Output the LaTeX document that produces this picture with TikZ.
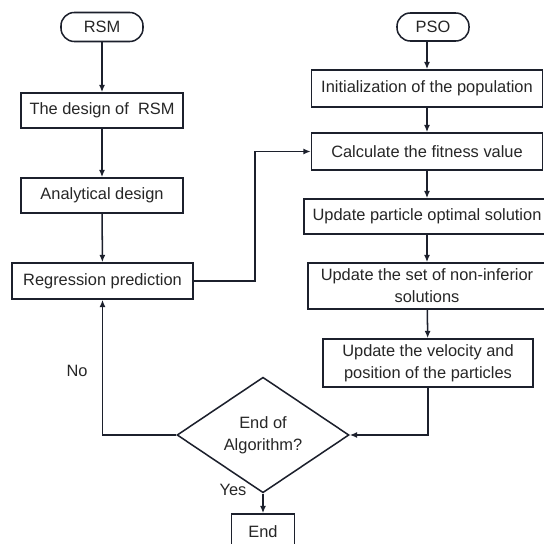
\documentclass[tikz,border=0pt]{standalone}
\usepackage{fontspec}
\setmainfont{Liberation Sans}
\usetikzlibrary{arrows.meta,positioning,shapes.geometric}
\definecolor{ink}{RGB}{28,32,44}
\definecolor{textgray}{RGB}{38,38,38}

\begin{document}
\begin{tikzpicture}[x=0.03cm,y=-0.03cm,
        box/.style={draw=ink,line width=1.3pt,fill=white,align=center,inner sep=2pt,text=textgray,font=\fontsize{14}{18.7}\selectfont},
        term/.style={box,rounded corners=0.4cm},
        arr/.style={draw=ink,line width=1.3pt,-{Latex[length=2.2mm,width=1.8mm]}},
        lbl/.style={text=textgray,font=\fontsize{14}{18.7}\selectfont}]
        \useasboundingbox (0,0) rectangle (543,544);
        % left column
        \node[term,minimum width=2.46cm,minimum height=0.87cm] (rsm) at (102,27) {RSM};
        \node[box,minimum width=4.86cm,minimum height=1.05cm] (design) at (102,110.5) {The design of~ RSM};
        \node[box,minimum width=4.86cm,minimum height=1.05cm] (analytic) at (102,195.5) {Analytical design};
        \node[box,minimum width=5.43cm,minimum height=1.08cm] (regress) at (102.5,281) {Regression prediction};
        % right column
        \node[term,minimum width=2.16cm,minimum height=0.84cm] (pso) at (433,27) {PSO};
        \node[box,minimum width=6.93cm,minimum height=1.11cm] (init) at (427,88.5) {Initialization of the population};
        \node[box,minimum width=6.93cm,minimum height=1.11cm] (calc) at (427,151.5) {Calculate the fitness value};
        \node[box,minimum width=7.38cm,minimum height=1.05cm] (optim) at (427,216.5) {Update particle optimal solution};
        \node[box,minimum width=7.14cm,minimum height=1.38cm] (noninf) at (427,286) {Update the set of non-inferior\\solutions};
        \node[box,minimum width=6.3cm,minimum height=1.44cm] (velocity) at (428,363) {Update the velocity and\\position of the particles};
        % decision
        \node[box,diamond,inner sep=0pt,minimum width=5.16cm,minimum height=2.28cm] (check) at (263,435) {End of\\Algorithm?};
        \node[box,minimum width=1.89cm,minimum height=1.08cm] (done) at (263,532) {End};
        \coordinate (bend) at (255,151.5);

        \draw[arr] (rsm) -- (design);
        \draw[arr] (design) -- (analytic);
        \draw[arr] (analytic) -- (regress);
        \draw[arr] (regress.east) -| (bend) -- (calc.west);
        \draw[arr] (pso.south -| init) -- (init);
        \draw[arr] (init) -- (calc);
        \draw[arr] (calc) -- (optim);
        \draw[arr] (optim) -- (noninf);
        \draw[arr] (noninf) -- (velocity);
        \draw[arr] (velocity.south) |- (check.east);
        \draw[arr] (check.west) -| (regress.south);
        \draw[arr] (check) -- (done);
        \node[lbl] (no) at (77,371) {No};
        \node[lbl] (yes) at (233,490) {Yes};
\end{tikzpicture}
\end{document}
